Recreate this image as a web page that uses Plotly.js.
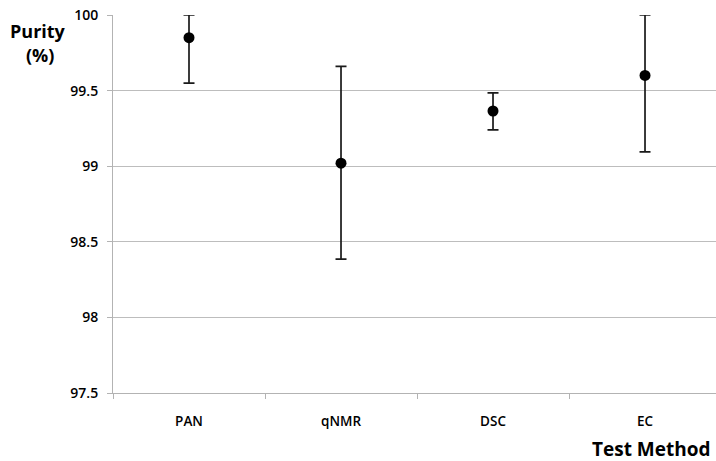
<!DOCTYPE html>
<html>
<head>
<meta charset="utf-8">
<script src="https://cdn.plot.ly/plotly-3.0.1.min.js"></script>
<style>html,body{margin:0;padding:0;background:#fff;}#chart{width:716px;height:461px;}</style>
</head>
<body>
<div id="chart"></div>
<script>
const methods = ["PAN", "qNMR", "DSC", "EC"];
const purity = [99.85, 99.02, 99.365, 99.60];
const upper = [100.0, 99.66, 99.485, 100.0];
const lower = [99.55, 98.385, 99.24, 99.095];
const yTicks = [97.5, 98, 98.5, 99, 99.5, 100];
const yTickText = ["97.5", "98", "98.5", "99", "99.5", "100"];

const errPlus = purity.map((v, i) => upper[i] - v);
const errMinus = purity.map((v, i) => v - lower[i]);

const trace = {
  type: "scatter",
  mode: "markers",
  x: methods,
  y: purity,
  marker: {color: "#000", size: 11},
  error_y: {
    type: "data",
    symmetric: false,
    array: errPlus,
    arrayminus: errMinus,
    color: "#1a1a1a",
    thickness: 1.7,
    width: 5.5
  },
  hoverinfo: "skip",
  cliponaxis: false
};

const labelFont = "Open Sans, Noto Sans, sans-serif";

const layout = {
  width: 716,
  height: 461,
  margin: {l: 113, r: 0, t: 15, b: 68},
  paper_bgcolor: "#fff",
  plot_bgcolor: "#fff",
  showlegend: false,
  font: {family: labelFont, color: "#000", size: 13},
  xaxis: {
    type: "category",
    range: [-0.5, 3.467],
    showgrid: false,
    zeroline: false,
    showline: true,
    linecolor: "#b3b3b3",
    linewidth: 1,
    ticks: "outside",
    tickson: "boundaries",
    ticklen: 5,
    tickcolor: "#b3b3b3",
    tickfont: {size: 13.5, color: "#000", weight: 600, family: labelFont},
    ticklabelstandoff: 16
  },
  yaxis: {
    range: [97.5, 100],
    tickvals: yTicks,
    ticktext: yTickText,
    showgrid: true,
    gridcolor: "#bdbdbd",
    gridwidth: 1,
    zeroline: false,
    showline: true,
    linecolor: "#b3b3b3",
    ticks: "outside",
    ticklen: 5,
    tickcolor: "#b3b3b3",
    tickfont: {size: 14, color: "#000", weight: 600, family: labelFont},
    ticklabelstandoff: 6
  },
  annotations: [
    {
      text: "<b>Purity</b>", xref: "paper", yref: "paper",
      x: -113 / 603 + 38 / 603, y: 1 + (15 - 31) / 378,
      xanchor: "center", yanchor: "middle", showarrow: false,
      font: {size: 18, color: "#000", family: labelFont}
    },
    {
      text: "<b>(%)</b>", xref: "paper", yref: "paper",
      x: -113 / 603 + 40 / 603, y: 1 + (15 - 55) / 378,
      xanchor: "center", yanchor: "middle", showarrow: false,
      font: {size: 18, color: "#000", family: labelFont}
    },
    {
      text: "<b>Test Method</b>", xref: "paper", yref: "paper",
      x: 1 - 3 / 603, y: (393 - 449) / 378,
      xanchor: "right", yanchor: "middle", showarrow: false,
      font: {size: 19, color: "#000", family: labelFont}
    }
  ]
};

Plotly.newPlot("chart", [trace], layout, {staticPlot: true, displayModeBar: false});
</script>
</body>
</html>
